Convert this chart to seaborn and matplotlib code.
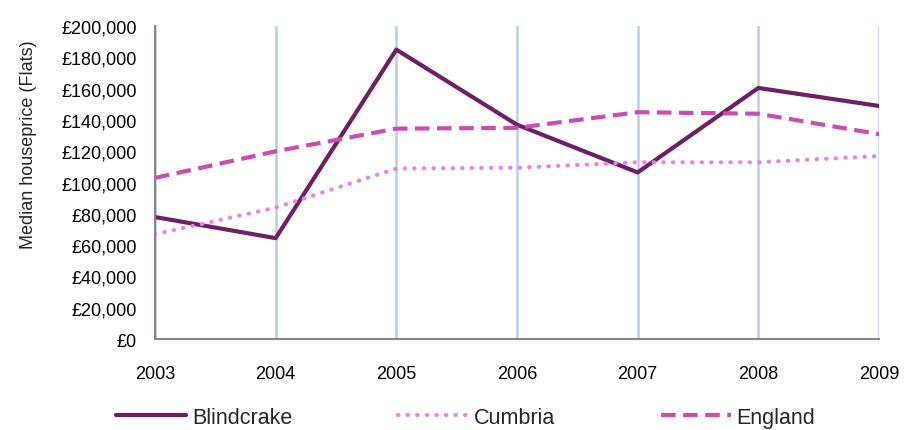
# Median house price (flats) line chart
import numpy as np
import pandas as pd
import matplotlib as mpl
import matplotlib.pyplot as plt
import seaborn as sns
from matplotlib.ticker import FuncFormatter

sns.set_theme(style="white")
plt.rcParams['font.family'] = ['Liberation Sans', 'DejaVu Sans']

# data
years = [2003, 2004, 2005, 2006, 2007, 2008, 2009]
blindcrake = [78000, 64500, 185000, 137000, 106500, 160500, 149000]
cumbria = [67000, 84000, 109000, 109500, 113000, 113000, 117000]
england = [103000, 120000, 134500, 135000, 145000, 144000, 131000]

df = pd.DataFrame({"year": years, "Blindcrake": blindcrake,
                   "Cumbria": cumbria, "England": england})
long = df.melt(id_vars="year", var_name="area", value_name="price")

colors = {"Blindcrake": "#6E1F66", "Cumbria": "#F07FEA", "England": "#CC4CB2"}

fig = plt.figure(figsize=(9.17, 4.31), dpi=100)
ax = fig.add_axes([0.169, 0.211, 0.7896, 0.726])

for name, ls, lw in [("Blindcrake", "-", 3), ("Cumbria", (0, (0.1, 2.2)), 3),
                     ("England", (0, (3.5, 1.8)), 3)]:
    sub = long[long.area == name]
    sns.lineplot(data=sub, x="year", y="price", ax=ax, color=colors[name],
                 linestyle=ls, linewidth=lw, label=name, legend=False,
                 dash_capstyle="round" if name == "Cumbria" else "butt")

ax.set_xlim(2003, 2009)
ax.set_ylim(0, 200000)
ax.set_xticks(years)
ax.set_yticks(np.arange(0, 200001, 20000))
ax.yaxis.set_major_formatter(FuncFormatter(lambda v, p: "£{:,.0f}".format(v)))
ax.grid(axis="x", color="#B9CDE5", linewidth=1.8)
ax.grid(axis="y", visible=False)
ax.set_axisbelow(True)

for s in ["top", "right"]:
    ax.spines[s].set_visible(False)
for s in ["left", "bottom"]:
    ax.spines[s].set_color("#878787")
    ax.spines[s].set_linewidth(1.5)
ax.tick_params(axis="both", direction="out", length=5, width=1.2, color="#878787",
               labelsize=13, labelcolor="black")
ax.tick_params(axis="y", pad=8)
ax.tick_params(axis="x", pad=14)

ax.set_xlabel("")
ax.set_ylabel("Median houseprice (Flats)", fontsize=13)
ax.yaxis.set_label_coords(-0.163, 0.623)

handles, labels = ax.get_legend_handles_labels()
fig.legend(handles, labels, loc="center", bbox_to_anchor=(0.508, 0.03), ncol=3,
           frameon=False, fontsize=15.5,
           handlelength=3.25, columnspacing=4.9, handletextpad=0.28)

fig.savefig("out.png", dpi=100)
